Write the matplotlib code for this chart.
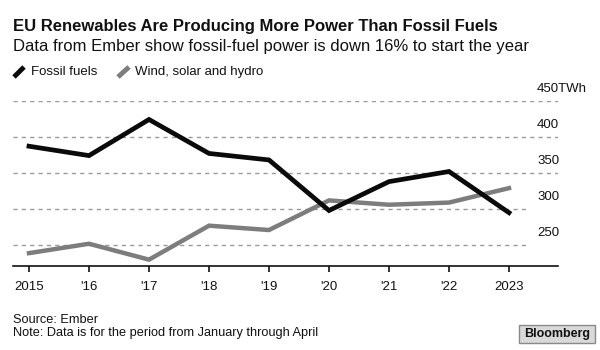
import matplotlib
matplotlib.use('Agg')
import matplotlib.pyplot as plt
from matplotlib.lines import Line2D
from matplotlib.patches import FancyBboxPatch
import matplotlib.transforms as mtransforms

plt.rcParams['font.family'] = ['Liberation Sans', 'DejaVu Sans']

years = [2015, 2016, 2017, 2018, 2019, 2020, 2021, 2022, 2023]
year_labels = ['2015', "'16", "'17", "'18", "'19", "'20", "'21", "'22", '2023']
fossil = [387, 374, 424, 377, 368, 298, 338, 352, 295]
renewables = [239, 252, 230, 277, 271, 312, 306, 309, 329]
y_ticks = [250, 300, 350, 400, 450]
y_labels = ['250', '300', '350', '400', '450TWh']

W, H = 600, 350
fig = plt.figure(figsize=(6, 3.5), dpi=100)
fig.patch.set_facecolor('white')

# axes placed in pixel terms of the reference
ax_left, ax_right, ax_bottom, ax_top = 13, 558, 266, 100.7
ax = fig.add_axes([ax_left / W, (H - ax_bottom) / H, (ax_right - ax_left) / W, (ax_bottom - ax_top) / H])
ax.set_xlim(2015 - 16 / 60, 2023 + 49 / 60)
ax.set_ylim(221.2, 450)

grid_col = '#9a9a9a'
for v in y_ticks:
    xmax = 2023 + 18 / 60 if v <= 300 else ax.get_xlim()[1]
    ax.hlines(v, ax.get_xlim()[0], xmax, colors=grid_col, linestyles=(0, (3, 3)), linewidth=1, zorder=1)

ax.plot(years, renewables, color='#7d7d7d', linewidth=3.2, solid_joinstyle='miter', zorder=3)
ax.plot(years, fossil, color='#0a0a0a', linewidth=3.4, solid_joinstyle='miter', zorder=4)

# y labels above grid lines, at the right
offset = mtransforms.ScaledTranslation(0, 12 / 100, fig.dpi_scale_trans)
trans = mtransforms.blended_transform_factory(ax.transAxes, ax.transData) + offset
for v, lab in zip(y_ticks, y_labels):
    ax.text((537 - ax_left) / (ax_right - ax_left), v, lab, transform=trans, ha='left', va='center',
            fontsize=9.5, color='#111111')

for s in ['left', 'right', 'top']:
    ax.spines[s].set_visible(False)
ax.spines['bottom'].set_color('#111111')
ax.spines['bottom'].set_linewidth(1.2)
ax.set_yticks([])
ax.set_xticks(years)
ax.set_xticklabels(year_labels, fontsize=9.5, color='#111111')
ax.tick_params(axis='x', length=4, width=1.2, color='#111111', pad=7)

def fy(p):
    return 1 - p / H

fig.text(13 / W, fy(27), 'EU Renewables Are Producing More Power Than Fossil Fuels',
         fontsize=12, fontweight='bold', va='center', ha='left', color='#111111')
fig.text(13 / W, fy(46.5), 'Data from Ember show fossil-fuel power is down 16% to start the year',
         fontsize=12, va='center', ha='left', color='#111111')

# legend
fig.add_artist(Line2D([14 / W, 24 / W], [fy(77), fy(67)], color='#0a0a0a', linewidth=3.5,
                      solid_capstyle='butt', transform=fig.transFigure))
fig.text(31 / W, fy(72), 'Fossil fuels', fontsize=9.5, va='center', ha='left', color='#111111')
fig.add_artist(Line2D([118 / W, 129 / W], [fy(77), fy(67)], color='#7d7d7d', linewidth=3.5,
                      solid_capstyle='butt', transform=fig.transFigure))
fig.text(135 / W, fy(72), 'Wind, solar and hydro', fontsize=9.5, va='center', ha='left', color='#111111')

fig.text(13 / W, fy(320), 'Source: Ember', fontsize=9.2, va='center', ha='left', color='#111111')
fig.text(13 / W, fy(333), 'Note: Data is for the period from January through April', fontsize=9.2,
         va='center', ha='left', color='#111111')

box = FancyBboxPatch((519 / W, fy(343)), 76 / W, 18 / H, boxstyle='square,pad=0',
                     facecolor='#d9d9d9', edgecolor='#8a8a8a', linewidth=1, transform=fig.transFigure)
fig.add_artist(box)
fig.text(557 / W, fy(334), 'Bloomberg', fontsize=9, fontweight='bold', va='center', ha='center', color='#111111')

fig.savefig('out.png', dpi=100, facecolor='white')
